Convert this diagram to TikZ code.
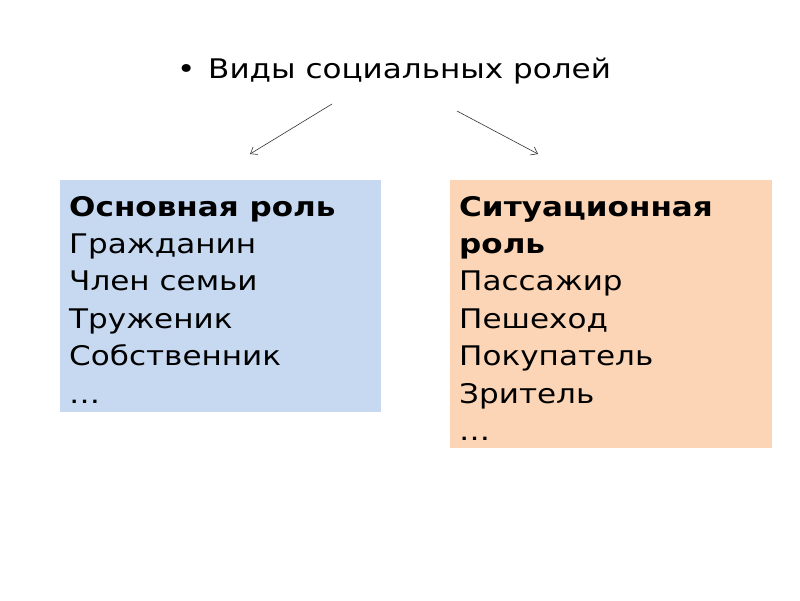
\documentclass[tikz,border=0pt]{standalone}
\usepackage{fontspec}
\setmainfont{DejaVu Sans}[FakeStretch=1.15]
\usetikzlibrary{arrows.meta}
\definecolor{boxblue}{HTML}{C6D9F1}
\definecolor{boxpeach}{HTML}{FBD5B5}
\tikzset{
  txt/.style={anchor=base west, inner sep=0pt, font=\fontsize{27pt}{36pt}\selectfont},
  btxt/.style={txt, font=\fontsize{27pt}{36pt}\selectfont\bfseries},
  conn/.style={draw=black!80, line width=0.6pt, -{Straight Barb[length=6pt,width=9pt]}}
}
\begin{document}
\begin{tikzpicture}[x=1pt,y=1pt]
\useasboundingbox (0,0) rectangle (800,-600);
\fill[white] (0,0) rectangle (800,-600);
% title
\node[txt] (bul) at (177,-78) {•};
\node[txt] (title) at (208,-78) {Виды социальных ролей};
% boxes
\fill[boxblue] (60,-180) rectangle (381,-412);
\fill[boxpeach] (450,-180) rectangle (772,-448);
\coordinate (a1s) at (332,-104);
\coordinate (a1e) at (250,-154);
\coordinate (a2s) at (457,-111);
\coordinate (a2e) at (538,-154);
\draw[conn] (a1s) -- (a1e);
\draw[conn] (a2s) -- (a2e);
% left text
\node[btxt] (l1) at (69,-216) {Основная роль};
\node[txt] (l2) at (69,-253) {Гражданин};
\node[txt] (l3) at (69,-290) {Член семьи};
\node[txt] (l4) at (69,-328) {Труженик};
\node[txt] (l5) at (69,-365) {Собственник};
\node[txt] (l6) at (69,-403) {…};
% right text
\node[btxt] (r1) at (459,-216) {Ситуационная};
\node[btxt] (r2) at (459,-253) {роль};
\node[txt] (r3) at (459,-290) {Пассажир};
\node[txt] (r4) at (459,-328) {Пешеход};
\node[txt] (r5) at (459,-365) {Покупатель};
\node[txt] (r6) at (459,-403) {Зритель};
\node[txt] (r7) at (459,-440) {…};
\end{tikzpicture}
\end{document}
